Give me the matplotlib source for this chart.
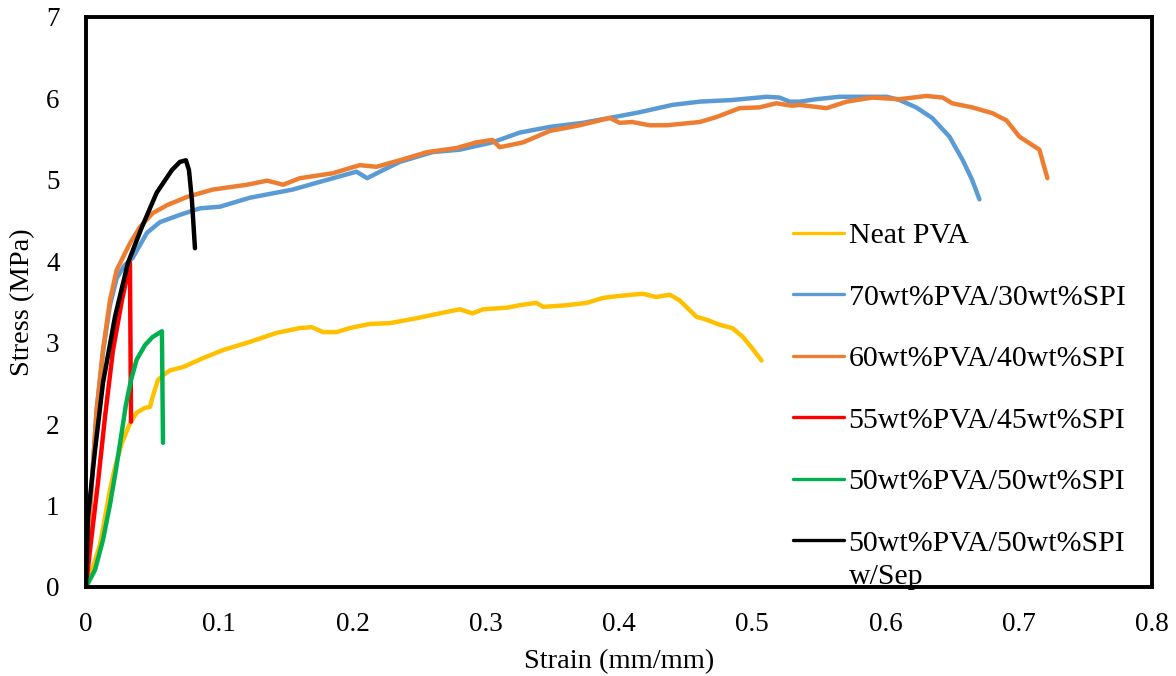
import numpy as np
import matplotlib
matplotlib.use('Agg')
from matplotlib import pyplot as plt

# strain (mm/mm) / stress (MPa) pairs for each blend
neatStrain = [0, 0.0053, 0.0105, 0.0143, 0.018, 0.0218, 0.027, 0.033, 0.038, 0.0443, 0.048, 0.050,
              0.054, 0.0578, 0.063, 0.0728, 0.0878, 0.103, 0.123, 0.143, 0.1605, 0.1695, 0.178,
              0.188, 0.198, 0.213, 0.228, 0.248, 0.2655, 0.2805, 0.290, 0.298, 0.316, 0.3255,
              0.338, 0.343, 0.361, 0.376, 0.388, 0.398, 0.410, 0.418, 0.428, 0.438, 0.4455,
              0.453, 0.458, 0.466, 0.4755, 0.485, 0.493, 0.500, 0.507]
neatStress = [0, 0.25, 0.52, 0.86, 1.19, 1.47, 1.77, 2.01, 2.14, 2.20, 2.21, 2.33,
              2.54, 2.60, 2.66, 2.70, 2.81, 2.91, 3.01, 3.12, 3.18, 3.19, 3.13,
              3.13, 3.18, 3.23, 3.24, 3.30, 3.36, 3.41, 3.36, 3.41, 3.43, 3.46,
              3.49, 3.44, 3.46, 3.49, 3.55, 3.57, 3.59, 3.60, 3.56, 3.59, 3.52,
              3.40, 3.32, 3.28, 3.22, 3.18, 3.07, 2.93, 2.78]

pva70Strain = [0, 0.0015, 0.0045, 0.008, 0.0128, 0.018, 0.023, 0.029, 0.035, 0.0458, 0.0555,
               0.0705, 0.0855, 0.1005, 0.123, 0.155, 0.181, 0.203, 0.211, 0.223, 0.2355, 0.260,
               0.2805, 0.305, 0.3255, 0.348, 0.3728, 0.393, 0.4155, 0.440, 0.4605, 0.485,
               0.511, 0.5205, 0.528, 0.5355, 0.548, 0.5655, 0.586, 0.601, 0.6105, 0.623,
               0.635, 0.648, 0.658, 0.665, 0.6705]
pva70Stress = [0, 0.52, 1.31, 2.17, 2.89, 3.46, 3.79, 3.95, 4.04, 4.35, 4.48,
               4.57, 4.65, 4.67, 4.78, 4.88, 5.00, 5.10, 5.02, 5.12, 5.22, 5.34,
               5.37, 5.46, 5.58, 5.65, 5.70, 5.76, 5.83, 5.92, 5.96, 5.98,
               6.02, 6.01, 5.96, 5.96, 5.99, 6.02, 6.02, 6.02, 5.98, 5.89,
               5.76, 5.53, 5.24, 5.00, 4.76]

pva60Strain = [0, 0.0015, 0.0045, 0.008, 0.0128, 0.018, 0.023, 0.0278, 0.033, 0.0405, 0.050,
               0.061, 0.0758, 0.095, 0.121, 0.136, 0.148, 0.1605, 0.185, 0.2055, 0.218, 0.2355,
               0.256, 0.278, 0.293, 0.305, 0.3105, 0.328, 0.348, 0.3705, 0.393, 0.4005, 0.410,
               0.423, 0.4358, 0.4605, 0.473, 0.4905, 0.5055, 0.518, 0.530, 0.5355, 0.5558,
               0.5708, 0.590, 0.6105, 0.6308, 0.643, 0.650, 0.665, 0.680, 0.6908, 0.7005,
               0.7155, 0.7215]
pva60Stress = [0, 0.52, 1.31, 2.17, 2.91, 3.52, 3.89, 4.05, 4.22, 4.42, 4.59,
               4.69, 4.79, 4.88, 4.94, 4.99, 4.94, 5.02, 5.08, 5.18, 5.16, 5.24,
               5.34, 5.39, 5.46, 5.49, 5.40, 5.46, 5.60, 5.67, 5.76, 5.70, 5.71,
               5.67, 5.67, 5.71, 5.77, 5.88, 5.89, 5.94, 5.91, 5.92, 5.88,
               5.96, 6.01, 5.99, 6.03, 6.01, 5.94, 5.89, 5.82, 5.73, 5.53,
               5.37, 5.02]

pva55Strain = [0, 0.003, 0.009, 0.0143, 0.0203, 0.027, 0.033, 0.0338]
pva55Stress = [0, 0.45, 1.28, 2.09, 2.91, 3.52, 3.98, 2.03]

pva50Strain = [0, 0.0068, 0.0128, 0.018, 0.0225, 0.026, 0.030, 0.0338, 0.038, 0.0443, 0.050,
               0.057, 0.0578]
pva50Stress = [0, 0.21, 0.58, 1.01, 1.44, 1.81, 2.24, 2.54, 2.79, 2.97, 3.07,
               3.14, 1.77]

sepStrain = [0, 0.0015, 0.0068, 0.0128, 0.0218, 0.0315, 0.042, 0.053, 0.0645, 0.0705, 0.075,
             0.0773, 0.0795, 0.0818]
sepStress = [0, 0.86, 1.68, 2.51, 3.32, 3.98, 4.42, 4.84, 5.12, 5.22, 5.24,
             5.12, 4.75, 4.16]

seriesLabels = ['Neat PVA', '70wt%PVA/30wt%SPI', '60wt%PVA/40wt%SPI',
                '55wt%PVA/45wt%SPI', '50wt%PVA/50wt%SPI', '50wt%PVA/50wt%SPI']
labelTail = 'w/Sep'  # second line of the last legend entry
seriesColors = ['#FFC000', '#5B9BD5', '#ED7D31', '#FF0000', '#00B050', '#000000']

xTicks = [0, 0.1, 0.2, 0.3, 0.4, 0.5, 0.6, 0.7, 0.8]
xTickLabels = ['0', '0.1', '0.2', '0.3', '0.4', '0.5', '0.6', '0.7', '0.8']
yTicks = [0, 1, 2, 3, 4, 5, 6, 7]

plt.rcParams['font.family'] = ['Liberation Serif', 'DejaVu Serif']

fig = plt.figure(figsize=(11.76, 6.76), dpi=100)
ax = fig.add_axes([0.0731, 0.1317, 0.9065, 0.8432])

curves = [(neatStrain, neatStress), (pva70Strain, pva70Stress), (pva60Strain, pva60Stress),
          (pva55Strain, pva55Stress), (pva50Strain, pva50Stress), (sepStrain, sepStress)]
for (x, y), lbl, col in zip(curves, seriesLabels, seriesColors):
    ax.plot(x, y, color=col, lw=3.2, label=lbl, solid_joinstyle='round', solid_capstyle='round')

ax.set_xlim(0, 0.8)
ax.set_ylim(0, 7)
ax.set_xticks(xTicks)
ax.set_xticklabels(xTickLabels)
ax.set_yticks(yTicks)
ax.tick_params(length=0, labelsize=19.5)
ax.tick_params(axis='x', pad=18)
ax.tick_params(axis='y', pad=19)
for s in ax.spines.values():
    s.set_linewidth(2.8)
    s.set_color('black')

ax.set_xlabel('Strain (mm/mm)', fontsize=20.5, labelpad=9)
ax.set_ylabel('Stress (MPa)', fontsize=20.5, labelpad=8)

leg = ax.legend(loc='upper left', bbox_to_anchor=(0.663, 0.640), frameon=False,
                fontsize=21.5, borderpad=0, borderaxespad=0, handlelength=1.7,
                handletextpad=0.17, labelspacing=1.16)
for line in leg.get_lines():
    line.set_linewidth(2.4)

# "w/Sep" sits under the last legend label, left-aligned with it
fig.canvas.draw()
lastText = leg.get_texts()[-1].get_window_extent()
tx, ty = ax.transAxes.inverted().transform((lastText.x0, lastText.y0))
ax.text(tx, ty - 0.012, labelTail, transform=ax.transAxes, fontsize=21.5,
        ha='left', va='top')

fig.savefig('out.png', dpi=100)
